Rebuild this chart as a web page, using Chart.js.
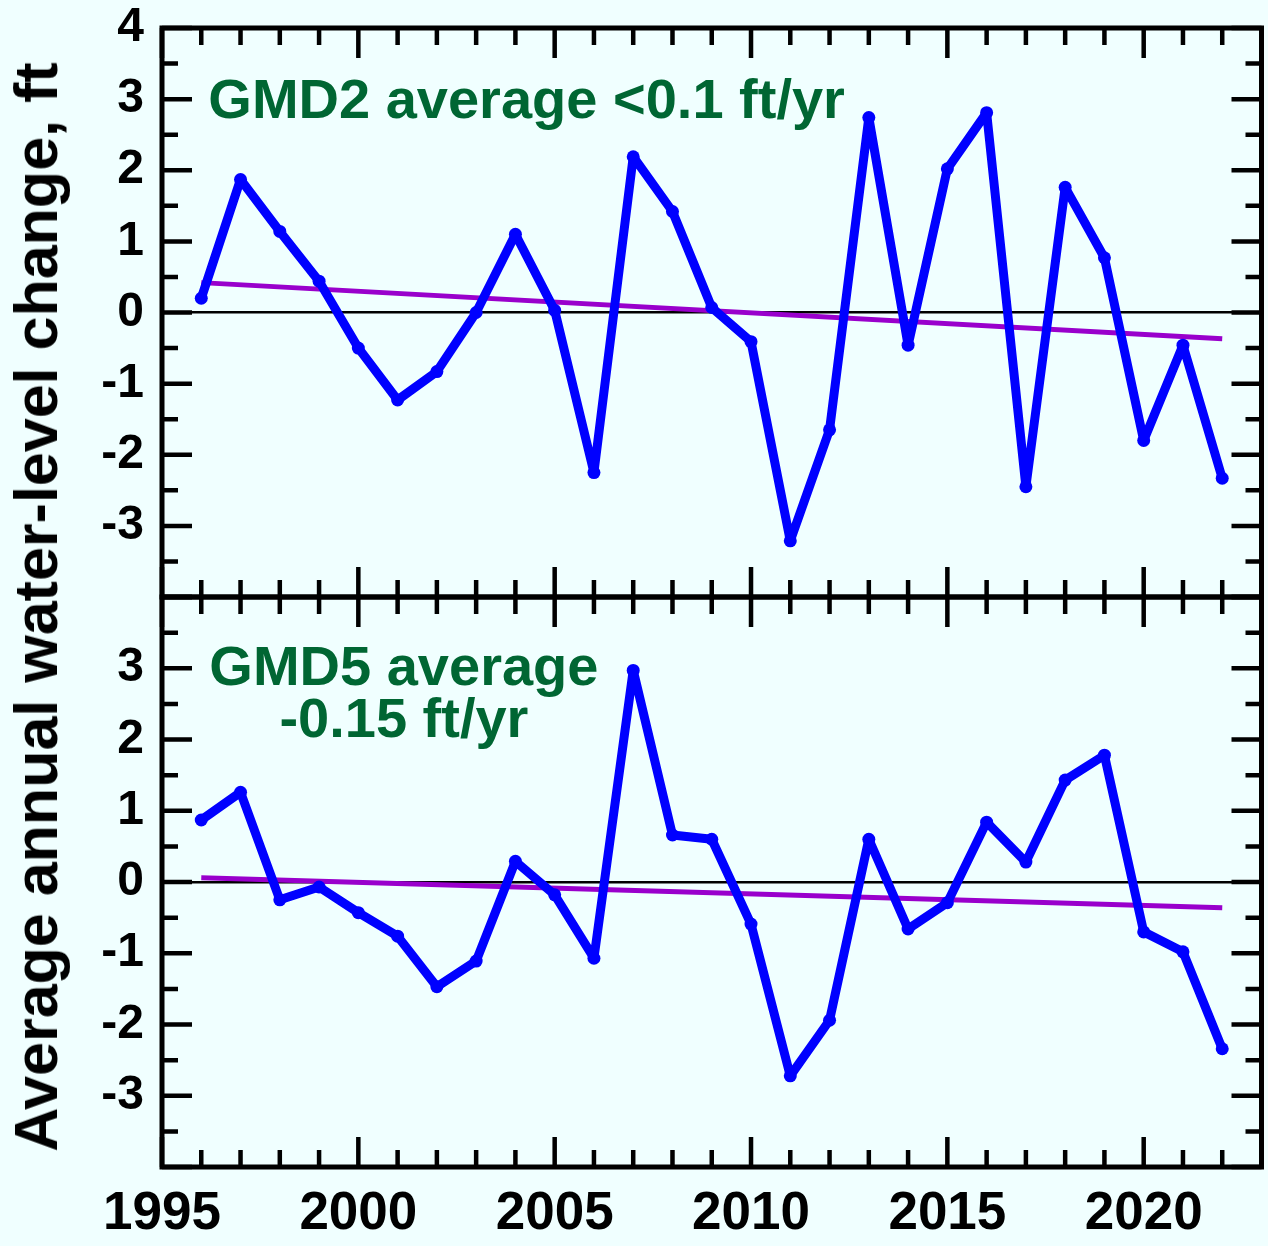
<!DOCTYPE html>
<html>
<head>
<meta charset="utf-8">
<title>Average annual water-level change, GMD2 and GMD5</title>
<script src="https://cdn.jsdelivr.net/npm/chart.js@4.4.1/dist/chart.umd.min.js"></script>
<style>
  html, body { margin: 0; padding: 0; background: #F0FFFF; }
  #wrap { position: relative; width: 1268px; height: 1246px; overflow: hidden; background: #F0FFFF; }
  canvas { position: absolute; left: 0; }
  #cTop { top: 0; }
  #cBot { top: 560px; }
  #ytitle {
    position: absolute; left: 36px; top: 607px;
    transform: translate(-50%, -50%) rotate(-90deg);
    white-space: nowrap; line-height: 1;
    font: bold 61px "Liberation Sans", Arial, sans-serif; color: #000;
  }
</style>
</head>
<body>
<div id="wrap">
  <canvas id="cTop" width="1268" height="620"></canvas>
  <canvas id="cBot" width="1268" height="686"></canvas>
  <div id="ytitle">Average annual water-level change, ft</div>
</div>
<script>
// Years of record
const years = [1996, 1997, 1998, 1999, 2000, 2001, 2002, 2003, 2004, 2005, 2006, 2007, 2008,
               2009, 2010, 2011, 2012, 2013, 2014, 2015, 2016, 2017, 2018, 2019, 2020, 2021, 2022];

// Average annual water-level change (ft)
const gmd2Change = [0.20, 1.87, 1.14, 0.44, -0.50, -1.23, -0.83, 0.00, 1.10, 0.03, -2.25, 2.19, 1.42,
                    0.07, -0.41, -3.21, -1.65, 2.74, -0.46, 2.02, 2.81, -2.45, 1.76, 0.77, -1.80, -0.46, -2.33];
const gmd5Change = [0.87, 1.26, -0.25, -0.07, -0.43, -0.76, -1.47, -1.11, 0.29, -0.18, -1.07, 2.97, 0.66,
                    0.60, -0.59, -2.72, -1.94, 0.60, -0.66, -0.29, 0.84, 0.28, 1.43, 1.78, -0.70, -0.98, -2.34];

// Linear trend end points
const trendYears = [1996, 2022];
const gmd2Trend = [0.42, -0.37];
const gmd5Trend = [0.06, -0.36];

// Panel annotations
const gmd2Notes = [{ text: 'GMD2 average <0.1 ft/yr', x: 1996.18, y: 2.73, align: 'left' }];
const gmd5Notes = [
  { text: 'GMD5 average', x: 2001.16, y: 2.76, align: 'center' },
  { text: '-0.15 ft/yr', x: 2001.16, y: 2.03, align: 'center' }
];

const FONT = '"Liberation Sans", Arial, sans-serif';
const toPoints = (xs, ys) => xs.map((x, i) => ({ x, y: ys[i] }));

// Box frame with inward-pointing major/minor ticks on all four sides
const frameTicks = {
  id: 'frameTicks',
  afterDatasetsDraw(chart) {
    const { ctx, chartArea: a, scales: { x, y } } = chart;
    ctx.save();
    ctx.strokeStyle = '#000';
    ctx.lineCap = 'butt';
    ctx.lineWidth = 4.5;
    ctx.beginPath();
    x.ticks.forEach(t => {
      const px = x.getPixelForValue(t.value);
      const len = t.value % 5 === 0 ? 30 : 17;
      ctx.moveTo(px, a.top); ctx.lineTo(px, a.top + len);
      ctx.moveTo(px, a.bottom); ctx.lineTo(px, a.bottom - len);
    });
    y.ticks.forEach(t => {
      const py = y.getPixelForValue(t.value);
      const len = Number.isInteger(t.value) ? 30 : 16;
      ctx.moveTo(a.left, py); ctx.lineTo(a.left + len, py);
      ctx.moveTo(a.right, py); ctx.lineTo(a.right - len, py);
    });
    ctx.stroke();
    ctx.lineWidth = 5;
    ctx.strokeRect(a.left, a.top, a.right - a.left, a.bottom - a.top);
    ctx.restore();
  }
};

// Green panel notes placed in data coordinates
const panelNotes = {
  id: 'panelNotes',
  afterDraw(chart, args, opts) {
    const { ctx, scales: { x, y } } = chart;
    ctx.save();
    ctx.fillStyle = '#006633';
    ctx.font = 'bold 56px ' + FONT;
    ctx.textBaseline = 'alphabetic';
    (opts.notes || []).forEach(n => {
      ctx.textAlign = n.align;
      ctx.fillText(n.text, x.getPixelForValue(n.x), y.getPixelForValue(n.y));
    });
    ctx.restore();
  }
};

function makePanel(canvasId, values, trend, notes, opt) {
  return new Chart(document.getElementById(canvasId), {
    type: 'line',
    data: {
      datasets: [
        {
          data: toPoints(years, values),
          borderColor: '#0000FF',
          backgroundColor: '#0000FF',
          borderWidth: 9,
          borderJoinStyle: 'round',
          pointRadius: 6.5,
          pointBorderWidth: 0,
          pointBackgroundColor: '#0000FF',
          tension: 0,
          order: 0
        },
        {
          data: toPoints(trendYears, trend),
          borderColor: '#9900CC',
          borderWidth: 5,
          pointRadius: 0,
          tension: 0,
          order: 1
        }
      ]
    },
    options: {
      responsive: false,
      animation: false,
      devicePixelRatio: 1,
      layout: { padding: { top: opt.padTop, right: 5, left: 0, bottom: 0 } },
      plugins: {
        legend: { display: false },
        tooltip: { enabled: false },
        panelNotes: { notes }
      },
      scales: {
        x: {
          type: 'linear',
          min: 1995, max: 2023,
          grid: { display: false, drawTicks: false },
          border: { display: false },
          ticks: {
            display: opt.showX,
            stepSize: 1,
            autoSkip: false,
            maxRotation: 0,
            padding: 16,
            color: '#000',
            font: { family: FONT, size: 53, weight: 'bold' },
            callback: v => (v % 5 === 0 && v < 2023) ? String(v) : ''
          },
          afterFit: s => {
            s.height = opt.xHeight;
            s.paddingLeft = 0; s.paddingRight = 0;
          }
        },
        y: {
          min: -4, max: 4,
          grid: {
            display: true,
            drawTicks: false,
            drawOnChartArea: true,
            color: c => (c.tick && c.tick.value === 0) ? '#000' : 'rgba(0,0,0,0)',
            lineWidth: 2.5
          },
          border: { display: false },
          ticks: {
            stepSize: 0.5,
            autoSkip: false,
            padding: 18,
            color: '#000',
            font: { family: FONT, size: 48, weight: 'bold' },
            callback: v => (Number.isInteger(v) && v > -4 && v <= opt.yTop) ? String(v) : ''
          },
          afterFit: s => {
            s.width = 162;
            s.paddingTop = 0; s.paddingBottom = 0;
          }
        }
      }
    },
    plugins: [frameTicks, panelNotes]
  });
}

makePanel('cTop', gmd2Change, gmd2Trend, gmd2Notes, { padTop: 28, xHeight: 23, showX: false, yTop: 4 });
makePanel('cBot', gmd5Change, gmd5Trend, gmd5Notes, { padTop: 37, xHeight: 79, showX: true, yTop: 3 });
</script>
</body>
</html>
